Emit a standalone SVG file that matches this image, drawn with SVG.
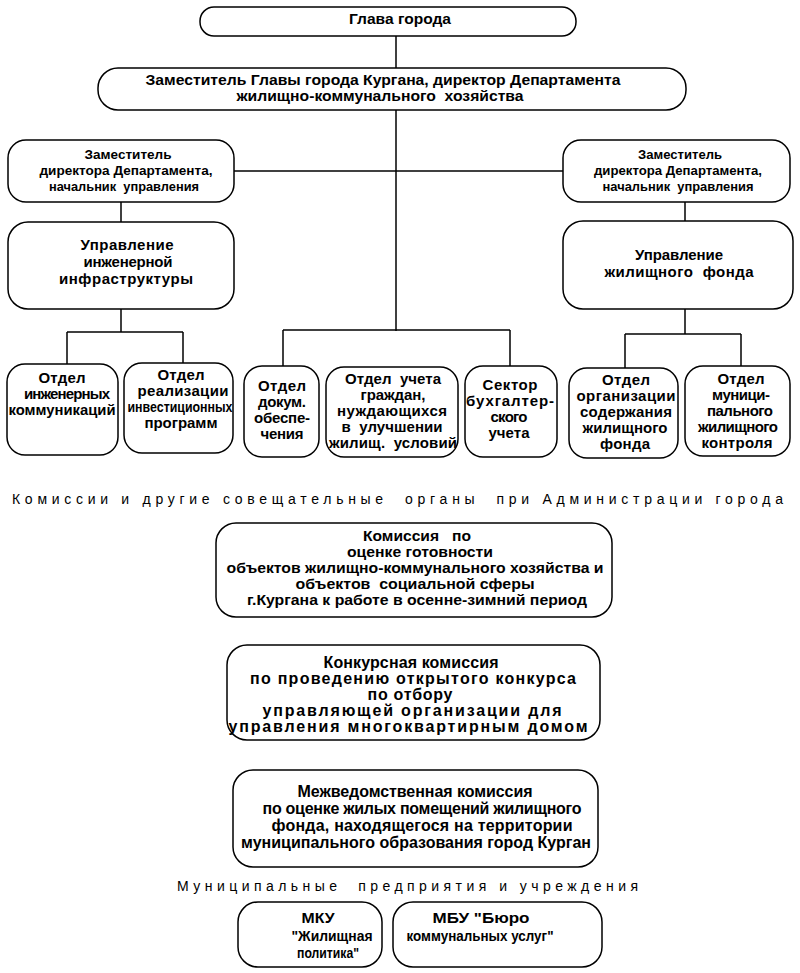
<svg xmlns="http://www.w3.org/2000/svg" width="800" height="973" viewBox="0 0 800 973">
<style>
rect{fill:#fff;stroke:#000;stroke-width:1.5}
#connectors line{stroke:#000;stroke-width:1.5}
text{font-family:"Liberation Sans",Arial,sans-serif;fill:#000;text-anchor:middle;white-space:pre}
.c{font-weight:bold;font-size:15px}
.s{font-weight:bold;font-size:13px}
.b{font-weight:bold;font-size:15px}
.k{font-weight:bold;font-size:16px}
.h{font-size:14px;text-anchor:start}
</style>
<rect width="800" height="973" style="fill:#fff;stroke:none"/>
<g id="connectors">
<line x1="396" y1="36" x2="396" y2="68"/>
<line x1="396" y1="110" x2="396" y2="331"/>
<line x1="234" y1="171" x2="563" y2="171"/>
<line x1="121" y1="202" x2="121" y2="222"/>
<line x1="685" y1="202" x2="685" y2="221"/>
<line x1="121" y1="309" x2="121" y2="332"/>
<line x1="67" y1="332" x2="183" y2="332"/>
<line x1="67" y1="332" x2="67" y2="364"/>
<line x1="183" y1="332" x2="183" y2="363"/>
<line x1="283" y1="330" x2="510" y2="330"/>
<line x1="283" y1="330" x2="283" y2="366"/>
<line x1="510" y1="330" x2="510" y2="366"/>
<line x1="685" y1="309" x2="685" y2="334"/>
<line x1="625" y1="334" x2="741" y2="334"/>
<line x1="625" y1="334" x2="625" y2="368"/>
<line x1="741" y1="334" x2="741" y2="366"/>
</g>
<g id="glava">
<rect x="200" y="7" width="376" height="29" rx="14"/>
<text class="c" x="400" y="24" textLength="102" lengthAdjust="spacingAndGlyphs">Глава города</text>
</g>
<g id="zam">
<rect x="98" y="68" width="588" height="42" rx="20"/>
<text class="c" x="383" y="85" textLength="475" lengthAdjust="spacingAndGlyphs">Заместитель Главы города Кургана, директор Департамента</text>
<text class="c" x="380" y="101" textLength="287" lengthAdjust="spacingAndGlyphs">жилищно-коммунального  хозяйства</text>
</g>
<g id="zamL">
<rect x="8" y="140" width="226" height="62" rx="18"/>
<text class="s" x="128" y="159" textLength="87" lengthAdjust="spacingAndGlyphs">Заместитель</text>
<text class="s" x="126" y="175" textLength="173" lengthAdjust="spacingAndGlyphs">директора Департамента,</text>
<text class="s" x="124" y="191" textLength="150" lengthAdjust="spacingAndGlyphs">начальник  управления</text>
</g>
<g id="zamR">
<rect x="563" y="140" width="227" height="62" rx="18"/>
<text class="s" x="680" y="159" textLength="84" lengthAdjust="spacingAndGlyphs">Заместитель</text>
<text class="s" x="678" y="175" textLength="168" lengthAdjust="spacingAndGlyphs">директора Департамента,</text>
<text class="s" x="678" y="191" textLength="151" lengthAdjust="spacingAndGlyphs">начальник  управления</text>
</g>
<g id="uprL">
<rect x="8" y="222" width="226" height="87" rx="20"/>
<text class="b" x="127" y="250" textLength="93">Управление</text>
<text class="b" x="128" y="267" textLength="89">инженерной</text>
<text class="b" x="126" y="284" textLength="134">инфраструктуры</text>
</g>
<g id="uprR">
<rect x="563" y="221" width="230" height="88" rx="20"/>
<text class="b" x="679" y="260" textLength="88">Управление</text>
<text class="b" x="679" y="277" textLength="149">жилищного  фонда</text>
</g>
<g id="otdInzh">
<rect x="7" y="364" width="111" height="91" rx="18"/>
<text class="b" x="62" y="383" textLength="47">Отдел</text>
<text class="b" x="67" y="399" textLength="86">инженерных</text>
<text class="b" x="62" y="415" textLength="107" lengthAdjust="spacingAndGlyphs">коммуникаций</text>
</g>
<g id="otdReal">
<rect x="124" y="363" width="109" height="90" rx="18"/>
<text class="b" x="181" y="380" textLength="47">Отдел</text>
<text class="b" x="183" y="396" textLength="91">реализации</text>
<text class="b" x="180" y="412" textLength="105" lengthAdjust="spacingAndGlyphs">инвестиционных</text>
<text class="b" x="181" y="428" textLength="73">программ</text>
</g>
<g id="otdDok">
<rect x="244" y="366" width="75" height="91" rx="18"/>
<text class="b" x="282" y="391" textLength="48">Отдел</text>
<text class="b" x="282" y="407" textLength="48">докум.</text>
<text class="b" x="282" y="423" textLength="56">обеспе-</text>
<text class="b" x="282" y="439" textLength="43">чения</text>
</g>
<g id="otdUch">
<rect x="326" y="367" width="132" height="90" rx="18"/>
<text class="b" x="393" y="384" textLength="96">Отдел  учета</text>
<text class="b" x="393" y="400" textLength="65">граждан,</text>
<text class="b" x="392" y="416" textLength="110">нуждающихся</text>
<text class="b" x="392" y="432" textLength="101">в  улучшении</text>
<text class="b" x="393" y="448" textLength="128">жилищ.  условий</text>
</g>
<g id="sektor">
<rect x="465" y="366" width="92" height="91" rx="18"/>
<text class="b" x="510" y="390" textLength="55">Сектор</text>
<text class="b" x="510" y="406" textLength="88">бухгалтер-</text>
<text class="b" x="509" y="422" textLength="37">ского</text>
<text class="b" x="509" y="438" textLength="41">учета</text>
</g>
<g id="otdOrg">
<rect x="569" y="368" width="109" height="90" rx="18"/>
<text class="b" x="626" y="385" textLength="48">Отдел</text>
<text class="b" x="626" y="401" textLength="99">организации</text>
<text class="b" x="626" y="417" textLength="92">содержания</text>
<text class="b" x="625" y="433" textLength="85">жилищного</text>
<text class="b" x="625" y="449" textLength="50">фонда</text>
</g>
<g id="otdMun">
<rect x="685" y="366" width="105" height="90" rx="18"/>
<text class="b" x="741" y="384" textLength="47">Отдел</text>
<text class="b" x="741" y="400" textLength="58">муници-</text>
<text class="b" x="740" y="416" textLength="66">пального</text>
<text class="b" x="738" y="432" textLength="80">жилищного</text>
<text class="b" x="737" y="448" textLength="71">контроля</text>
</g>
<text class="h" x="12" y="504" textLength="771">Комиссии и другие совещательные  органы  при Администрации города</text>
<g id="kom1">
<rect x="216" y="523" width="396" height="94" rx="20"/>
<text class="c" x="417" y="541" textLength="108" lengthAdjust="spacingAndGlyphs">Комиссия   по</text>
<text class="c" x="420" y="557" textLength="146" lengthAdjust="spacingAndGlyphs">оценке готовности</text>
<text class="c" x="415" y="573" textLength="377" lengthAdjust="spacingAndGlyphs">объектов жилищно-коммунального хозяйства и</text>
<text class="c" x="415" y="589" textLength="239" lengthAdjust="spacingAndGlyphs">объектов  социальной сферы</text>
<text class="c" x="417" y="605" textLength="340" lengthAdjust="spacingAndGlyphs">г.Кургана к работе в осенне-зимний период</text>
</g>
<g id="kom2">
<rect x="227" y="645" width="373" height="95" rx="20"/>
<text class="k" x="411" y="668" textLength="175">Конкурсная комиссия</text>
<text class="k" x="413" y="684" textLength="326">по проведению открытого конкурса</text>
<text class="k" x="410" y="700" textLength="85">по отбору</text>
<text class="k" x="412" y="716" textLength="299">управляющей организации для</text>
<text class="k" x="408" y="732" textLength="359">управления многоквартирным домом</text>
</g>
<g id="kom3">
<rect x="233" y="770" width="365" height="97" rx="20"/>
<text class="k" x="415" y="797" textLength="235">Межведомственная комиссия</text>
<text class="k" x="422" y="814" textLength="319">по оценке жилых помещений жилищного</text>
<text class="k" x="422" y="831" textLength="301">фонда, находящегося на территории</text>
<text class="k" x="416" y="848" textLength="350">муниципального образования город Курган</text>
</g>
<text class="h" x="177" y="891" textLength="461">Муниципальные  предприятия и учреждения</text>
<g id="mku">
<rect x="238" y="902" width="144" height="65" rx="20"/>
<text class="b" x="318" y="923" textLength="33" lengthAdjust="spacingAndGlyphs">МКУ</text>
<text class="b" x="332" y="941" textLength="81" lengthAdjust="spacingAndGlyphs">"Жилищная</text>
<text class="b" x="328" y="958" textLength="62" lengthAdjust="spacingAndGlyphs">политика"</text>
</g>
<g id="mbu">
<rect x="393" y="902" width="209" height="65" rx="20"/>
<text class="b" x="481" y="923" textLength="97" lengthAdjust="spacingAndGlyphs">МБУ "Бюро</text>
<text class="b" x="480" y="941" textLength="147" lengthAdjust="spacingAndGlyphs">коммунальных услуг"</text>
</g>
</svg>
